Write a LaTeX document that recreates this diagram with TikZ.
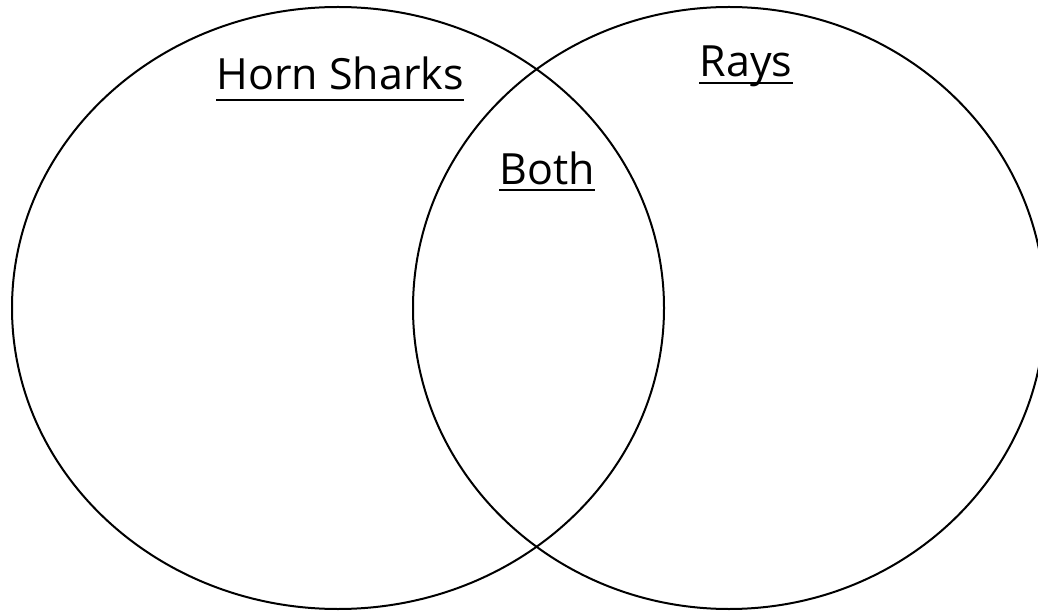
\documentclass[tikz,border=0pt]{standalone}
\usepackage{fontspec}
\setmainfont{Open Sans}
\begin{document}
\begin{tikzpicture}[x=1pt,y=1pt,
  venn/.style={draw=black,line width=2pt},
  lbl/.style={inner sep=0pt,anchor=base,font=\fontsize{43}{50}\selectfont},
  uline/.style={line width=2.6pt}]
\useasboundingbox (0,0) rectangle (1038,611);
\begin{scope}
\clip (0,0) rectangle (1038,611);
\draw[venn] (338,303) ellipse [x radius=326, y radius=301];
\draw[venn] (729,303) ellipse [x radius=316, y radius=301];
\end{scope}
\node[lbl] (hs) at (340,521) {Horn Sharks};
\node[lbl] (both) at (547,426) {Both};
\node[lbl] (rays) at (746,534) {Rays};
\draw[uline] ([yshift=-10pt]hs.base west) -- ([yshift=-10pt]hs.base east);
\draw[uline] ([yshift=-5pt]both.base west) -- ([yshift=-5pt]both.base east);
\draw[uline] ([yshift=-6pt]rays.base west) -- ([yshift=-6pt]rays.base east);
\end{tikzpicture}
\end{document}
